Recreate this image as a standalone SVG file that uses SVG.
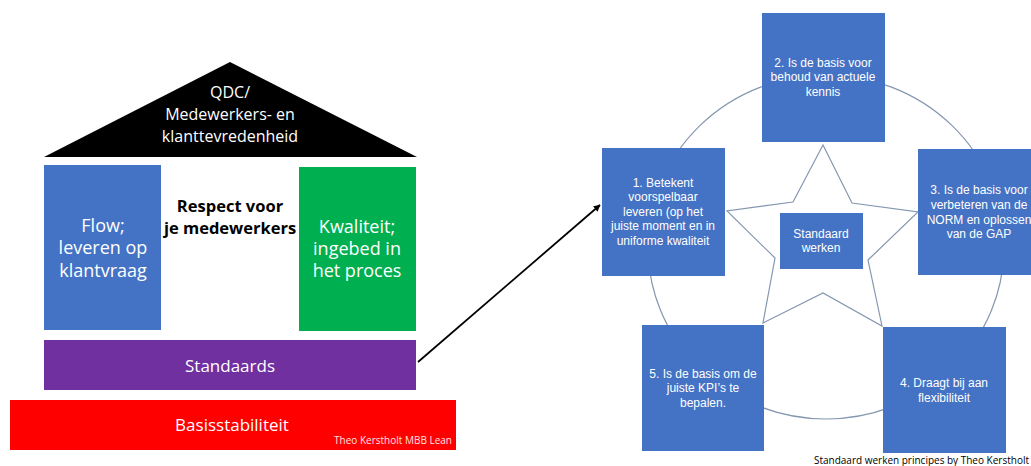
<svg xmlns="http://www.w3.org/2000/svg" width="1031" height="466" viewBox="0 0 1031 466">
<defs>
<marker id="ah" viewBox="0 0 10 10" refX="9" refY="5" markerWidth="7" markerHeight="7" orient="auto" markerUnits="userSpaceOnUse">
<path d="M0,0 L10,5 L0,10 z" fill="#000"/>
</marker>
<style>
.h{font-family:"Open Sans","Liberation Sans",sans-serif;fill:#fff;text-anchor:middle}
.b{font-family:"Liberation Sans",Arial,sans-serif;font-size:12px;fill:#fff;text-anchor:middle}
.box{fill:#4472C4}
.ln{fill:none;stroke:#8497b0;stroke-width:1.2}
</style>
</defs>
<rect width="1031" height="466" fill="#fff"/>
<g id="roof">
<polygon points="230,62 44,157 417,157" fill="#000"/>
<text class="h" font-size="16" x="230" y="98">QDC/</text>
<text class="h" font-size="16" x="230" y="120">Medewerkers- en</text>
<text class="h" font-size="16" x="230" y="142">klanttevredenheid</text>
</g>
<g id="flow">
<rect x="44" y="165" width="117" height="165" fill="#4472C4"/>
<text class="h" font-size="18" x="103" y="232">Flow;</text>
<text class="h" font-size="18" x="103" y="254">leveren op</text>
<text class="h" font-size="18" x="103" y="277">klantvraag</text>
</g>
<g id="respect">
<text class="h" font-size="16.5" font-weight="bold" style="fill:#000" x="230" y="212">Respect voor</text>
<text class="h" font-size="16.5" font-weight="bold" style="fill:#000" x="230" y="234">je medewerkers</text>
</g>
<g id="kwaliteit">
<rect x="299" y="167" width="117" height="164" fill="#00B050"/>
<text class="h" font-size="18" x="357" y="233">Kwaliteit;</text>
<text class="h" font-size="18" x="357" y="255">ingebed in</text>
<text class="h" font-size="18" x="357" y="277">het proces</text>
</g>
<g id="standaards">
<rect x="44" y="340" width="372" height="50" fill="#7030A0"/>
<text class="h" font-size="17" x="230" y="372">Standaards</text>
</g>
<g id="basis">
<rect x="10" y="400" width="446" height="50" fill="#FF0000"/>
<text class="h" font-size="17" x="232" y="431">Basisstabiliteit</text>
<text font-family="Open Sans, Liberation Sans, sans-serif" font-size="10" fill="#ffe0e0" x="452" y="444" text-anchor="end">Theo Kerstholt MBB Lean</text>
</g>
<g id="connectors">
<line x1="418" y1="362" x2="600" y2="205" stroke="#000" stroke-width="1.8" marker-end="url(#ah)"/>
</g>
<g id="cycle">
<ellipse class="ln" cx="826" cy="247" rx="178" ry="172"/>
<polygon class="ln" style="fill:#fff" points="823,145 852,203 918,212 868,260 882,326 823,293 763,323 775,258 727,211 793,202"/>
</g>
<g id="n2">
<rect class="box" x="762" y="13" width="123" height="129"/>
<text class="b" x="823" y="67">2. Is de basis voor</text>
<text class="b" x="823" y="81">behoud van actuele</text>
<text class="b" x="823" y="96">kennis</text>
</g>
<g id="n1">
<rect class="box" x="602" y="148" width="123" height="128"/>
<text class="b" x="663" y="187">1. Betekent</text>
<text class="b" x="663" y="201">voorspelbaar</text>
<text class="b" x="663" y="216">leveren (op het</text>
<text class="b" x="663" y="230">juiste moment en in</text>
<text class="b" x="663" y="245">uniforme kwaliteit</text>
</g>
<g id="n3">
<rect class="box" x="918" y="149" width="123" height="126"/>
<text class="b" x="979" y="194">3. Is de basis voor</text>
<text class="b" x="979" y="209">verbeteren van de</text>
<text class="b" x="979" y="224">NORM en oplossen</text>
<text class="b" x="979" y="238">van de GAP</text>
</g>
<g id="center">
<rect class="box" x="780" y="213" width="83" height="56"/>
<text class="b" x="821" y="238">Standaard</text>
<text class="b" x="821" y="252">werken</text>
</g>
<g id="n5">
<rect class="box" x="642" y="325" width="122" height="126"/>
<text class="b" x="703" y="378">5. Is de basis om de</text>
<text class="b" x="703" y="392">juiste KPI’s te</text>
<text class="b" x="703" y="407">bepalen.</text>
</g>
<g id="n4">
<rect class="box" x="883" y="327" width="123" height="126"/>
<text class="b" x="944" y="387">4. Draagt bij aan</text>
<text class="b" x="944" y="402">flexibiliteit</text>
</g>
<text font-family="Open Sans, Liberation Sans, sans-serif" font-size="10" fill="#000" x="1029" y="464" text-anchor="end">Standaard werken principes by Theo Kerstholt</text>
</svg>
